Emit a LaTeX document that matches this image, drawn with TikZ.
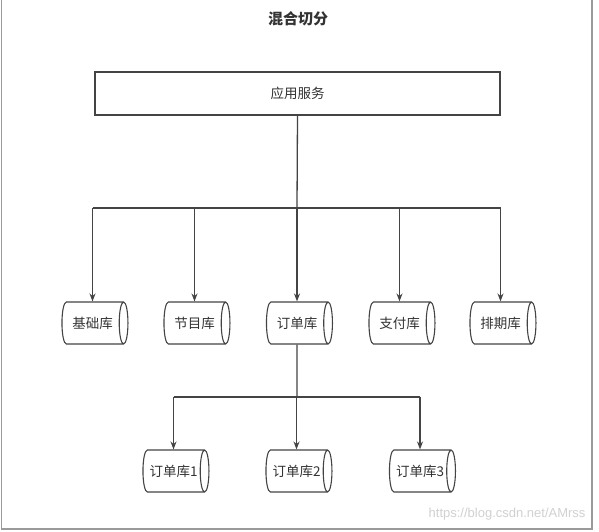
\documentclass[tikz,border=0pt]{standalone}
\usepackage{fontspec}
\setmainfont{Noto Sans CJK SC}
\newfontfamily\wmfont{Liberation Sans}
\usetikzlibrary{shapes.geometric,arrows.meta}
\definecolor{ink}{HTML}{333333}
\definecolor{linec}{HTML}{444444}
\definecolor{framec}{HTML}{9A9A9A}
\tikzset{
  conn/.style={draw=linec, line width=1.3pt},
  arrow/.style={conn, -{Stealth[length=8pt,width=6pt]}},
  dbnode/.style={cylinder, draw=linec, line width=1.1pt, shape aspect=0.7,
     minimum width=42pt, minimum height=66pt, inner sep=0pt, text=ink,
     font=\fontsize{13.5}{14}\selectfont},
  appbox/.style={draw=linec, line width=1.1pt, minimum width=405pt, minimum height=43pt,
     text=ink, font=\fontsize{13.5}{14}\selectfont},
}
\begin{document}
\begin{tikzpicture}[x=1pt,y=1pt]
\useasboundingbox (0,0) rectangle (599,-531);
\fill[white] (0,0) rectangle (599,-531);
\draw[framec, line width=1.5pt] (1.5,0) -- (1.5,-529) -- (592,-529) -- (592,0);
\node[font=\bfseries\fontsize{15}{16}\selectfont, text=ink] (title) at (298,-19) {混合切分};
\node[appbox] (app) at (297.5,-93.5) {应用服务};
\node[dbnode] (db1) at (92.5,-323) {基础库};
\node[dbnode] (db2) at (194.5,-323) {节目库};
\node[dbnode] (db3) at (297,-323) {订单库};
\node[dbnode] (db4) at (399.5,-323) {支付库};
\node[dbnode] (db5) at (500.5,-323) {排期库};
\node[dbnode] (o1) at (173.5,-471) {订单库1};
\node[dbnode] (o2) at (296.5,-471) {订单库2};
\node[dbnode] (o3) at (420,-471) {订单库3};
\coordinate (bus) at (297,-208);
\coordinate (bus2) at (297,-397);
\draw[conn] (app.south) -- (bus);
\draw[conn] (db1.north |- bus) -- (db5.north |- bus);
\foreach \n in {db1,db2,db3,db4,db5} \draw[arrow] (\n.north |- bus) -- (\n.north);
\draw[conn] (db3.south) -- (bus2);
\draw[conn] (o1.north |- bus2) -- (o3.north |- bus2);
\foreach \n in {o1,o2,o3} \draw[arrow] (\n.north |- bus2) -- (\n.north);
\node[anchor=east, text=black!18, font=\wmfont\fontsize{13}{14}\selectfont] (wm) at (589,-514) {https://blog.csdn.net/AMrss};
\end{tikzpicture}
\end{document}
